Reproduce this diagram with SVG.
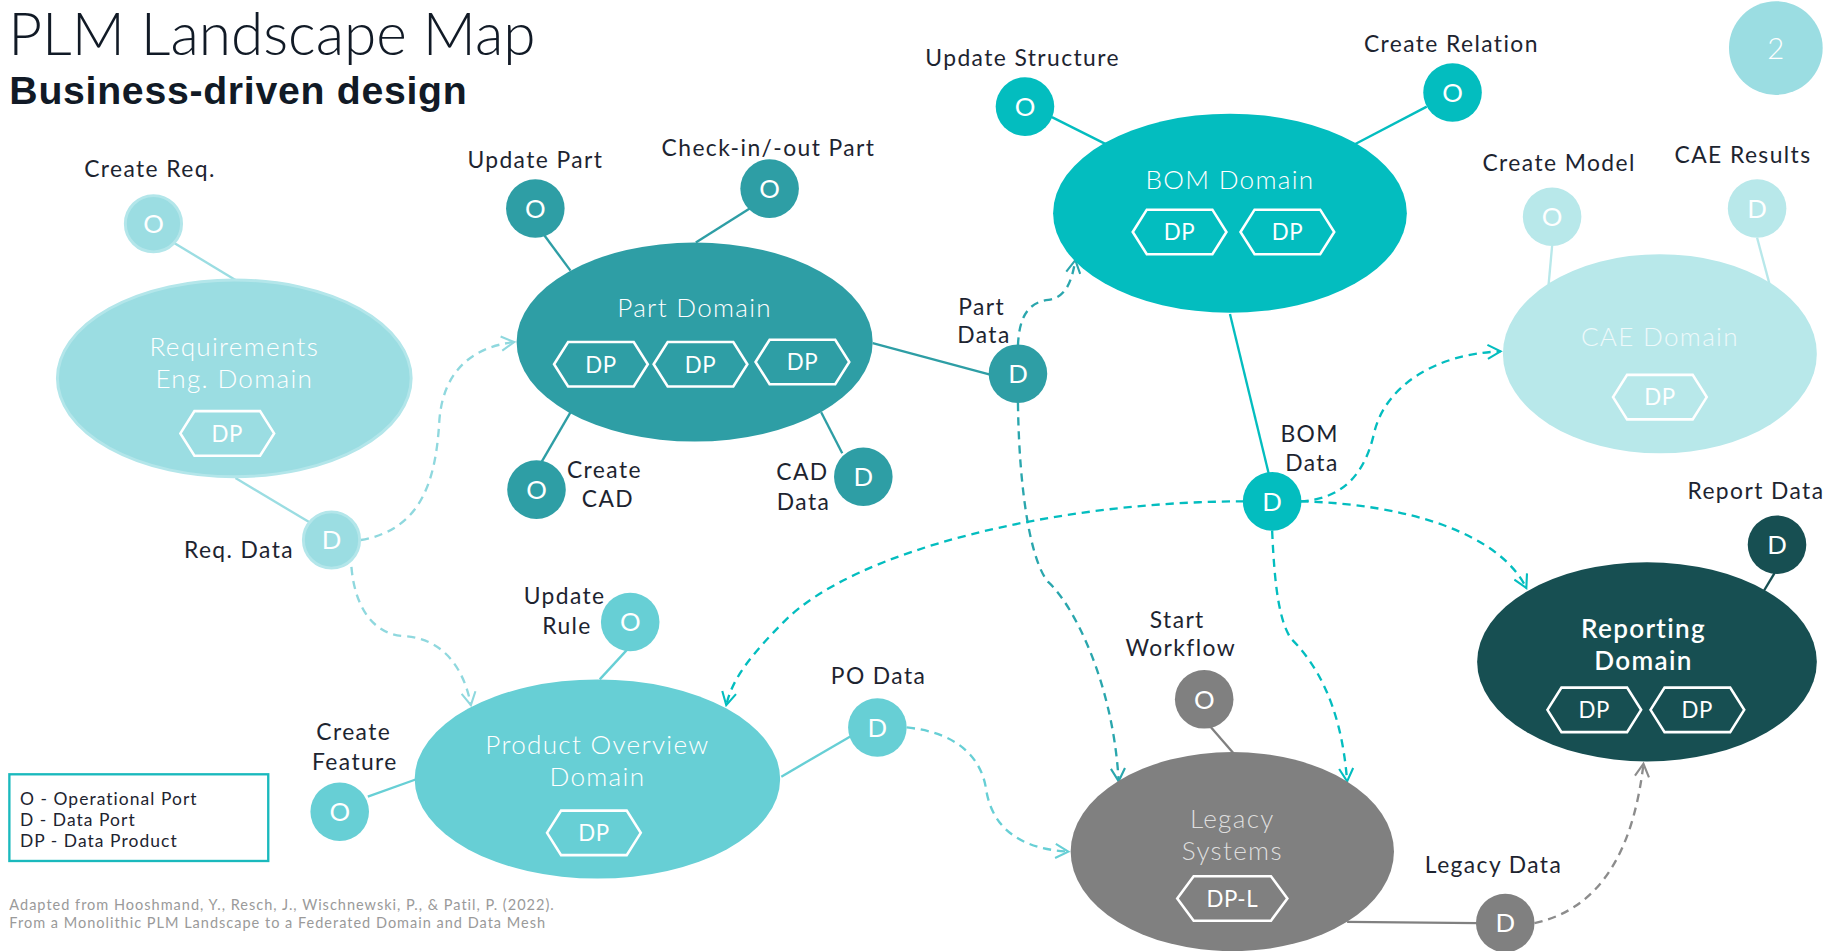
<svg xmlns="http://www.w3.org/2000/svg" width="1837" height="951" viewBox="0 0 1837 951">
  <style>
    text { font-family: Lato, "Open Sans", "Liberation Sans", sans-serif; }
    .title { font-size: 50px; font-weight: 300; fill: #111a26; }
    .subtitle { font-family: "Liberation Sans", Arial, sans-serif; font-size: 33.5px; font-weight: 700; letter-spacing: 0.6px; fill: #111a26; }
    .lbl { font-size: 19.5px; letter-spacing: 1.2px; fill: #1d2430; text-anchor: middle; }
    .dom { font-size: 22.3px; font-weight: 300; letter-spacing: 1.1px; fill: #ffffff; text-anchor: middle; }
    .port { font-size: 22px; fill: #ffffff; text-anchor: middle; }
    .dp { fill: none; stroke: #ffffff; stroke-width: 2.2; }
    .dpt { font-size: 19px; letter-spacing: 0.5px; fill: #ffffff; text-anchor: middle; }
    .link { fill: none; stroke-width: 2; }
    .flow { fill: none; stroke-width: 2; stroke-dasharray: 7 5; }
    .legend { font-size: 14.9px; letter-spacing: 0.9px; fill: #1d2430; }
    .note { font-size: 12.4px; letter-spacing: 0.85px; fill: #9a9a9a; }
  </style>
  <defs>
    <polygon id="hex" points="-40,0 -28,-19 28,-19 40,0 28,19 -28,19"/>
    <polygon id="hexw" points="-47,0 -33,-19 33,-19 47,0 33,19 -33,19"/>
    <marker id="ah-light" viewBox="0 0 14 14" refX="12" refY="7" markerWidth="14" markerHeight="14" orient="auto" markerUnits="userSpaceOnUse">
      <path d="M1,1 L12,7 L1,13" fill="none" stroke="#8fd8de" stroke-width="1.8"/>
    </marker>
    <marker id="ah-part" viewBox="0 0 14 14" refX="12" refY="7" markerWidth="14" markerHeight="14" orient="auto" markerUnits="userSpaceOnUse">
      <path d="M1,1 L12,7 L1,13" fill="none" stroke="#2aa6ad" stroke-width="1.8"/>
    </marker>
    <marker id="ah-bom" viewBox="0 0 14 14" refX="12" refY="7" markerWidth="14" markerHeight="14" orient="auto" markerUnits="userSpaceOnUse">
      <path d="M1,1 L12,7 L1,13" fill="none" stroke="#03bdbf" stroke-width="1.8"/>
    </marker>
    <marker id="ah-po" viewBox="0 0 14 14" refX="12" refY="7" markerWidth="14" markerHeight="14" orient="auto" markerUnits="userSpaceOnUse">
      <path d="M1,1 L12,7 L1,13" fill="none" stroke="#67cfd5" stroke-width="1.8"/>
    </marker>
    <marker id="ah-grey" viewBox="0 0 14 14" refX="12" refY="7" markerWidth="14" markerHeight="14" orient="auto" markerUnits="userSpaceOnUse">
      <path d="M1,1 L12,7 L1,13" fill="none" stroke="#8c8c8c" stroke-width="1.8"/>
    </marker>
  </defs>

  <rect width="1837" height="951" fill="#ffffff"/>

  <g transform="scale(1.1714)">
    <!-- heading -->
    <g id="heading">
      <text class="title" x="7" y="47">PLM Landscape Map</text>
      <text class="subtitle" x="8" y="88.5">Business-driven design</text>
    </g>

    <g id="page-number">
      <circle cx="1516" cy="41" r="40" fill="#9bdde2"/>
      <text x="1516" y="50" font-size="25" font-weight="300" fill="#ffffff" text-anchor="middle">2</text>
    </g>

    <!-- solid port links and dashed data flows -->
    <g id="connectors">
      <line class="link" stroke="#9bdde2" x1="148" y1="207" x2="201" y2="239"/>
      <line class="link" stroke="#9bdde2" x1="201" y1="408" x2="266" y2="447"/>
      <line class="link" stroke="#2e9ea5" x1="464" y1="200" x2="487" y2="231"/>
      <line class="link" stroke="#2e9ea5" x1="640" y1="178" x2="594" y2="207"/>
      <line class="link" stroke="#2e9ea5" x1="462" y1="395" x2="487" y2="352"/>
      <line class="link" stroke="#2e9ea5" x1="719" y1="387" x2="701" y2="352"/>
      <line class="link" stroke="#2e9ea5" x1="745" y1="293" x2="846" y2="320"/>
      <line class="link" stroke="#03bdbf" x1="898" y1="100" x2="944" y2="123"/>
      <line class="link" stroke="#03bdbf" x1="1218" y1="91" x2="1157" y2="123"/>
      <line class="link" stroke="#03bdbf" x1="1050" y1="268" x2="1083" y2="404"/>
      <line class="link" stroke="#b8e8ea" x1="1325" y1="210" x2="1322" y2="243"/>
      <line class="link" stroke="#b8e8ea" x1="1500" y1="203" x2="1511" y2="244"/>
      <line class="link" stroke="#174f52" x1="1515" y1="489" x2="1503" y2="509"/>
      <line class="link" stroke="#808080" x1="1033" y1="620" x2="1053" y2="643"/>
      <line class="link" stroke="#808080" x1="1150" y1="787" x2="1262" y2="788"/>
      <line class="link" stroke="#67cfd5" x1="535" y1="555" x2="512" y2="580"/>
      <line class="link" stroke="#67cfd5" x1="314" y1="680" x2="356" y2="665"/>
      <line class="link" stroke="#67cfd5" x1="727" y1="628" x2="667" y2="663"/>

      <path class="flow" stroke="#8fd8de" marker-end="url(#ah-light)" d="M308,461 C360,452 372,410 375,360 C378,315 405,296 439,292"/>
      <path class="flow" stroke="#8fd8de" marker-end="url(#ah-light)" d="M300,484 C303,520 320,542 345,543 C378,545 396,570 402,602"/>
      <path class="flow" stroke="#2aa6ad" marker-end="url(#ah-part)" d="M869,295 C870,270 878,258 895,256 C910,254 915,240 918,222"/>
      <path class="flow" stroke="#2aa6ad" marker-end="url(#ah-part)" d="M869,344 C870,420 880,480 895,497 C915,515 950,580 955,667"/>
      <path class="flow" stroke="#03bdbf" marker-end="url(#ah-bom)" d="M1062,428 C900,428 730,470 670,530 C640,560 625,580 620,602"/>
      <path class="flow" stroke="#03bdbf" marker-end="url(#ah-bom)" d="M1110,428 C1150,426 1166,400 1173,370 C1182,330 1225,302 1281,300"/>
      <path class="flow" stroke="#03bdbf" marker-end="url(#ah-bom)" d="M1110,428 C1200,430 1280,455 1303,502"/>
      <path class="flow" stroke="#03bdbf" marker-end="url(#ah-bom)" d="M1086,453 C1088,500 1092,530 1102,545 C1122,565 1145,600 1150,667"/>
      <path class="flow" stroke="#67cfd5" marker-end="url(#ah-po)" d="M774,621 C815,625 838,645 842,675 C848,710 875,725 912,727"/>
      <path class="flow" stroke="#8c8c8c" marker-end="url(#ah-grey)" d="M1310,788 C1370,775 1395,720 1403,652"/>
    </g>

    <!-- Requirements Engineering -->
    <g id="req-domain">
      <ellipse cx="200" cy="323" rx="151" ry="84" fill="#9bdde2" stroke="#b3e6ea" stroke-width="2.5"/>
      <text class="dom"><tspan x="200" y="304">Requirements</tspan><tspan x="200" y="331">Eng. Domain</tspan></text>
      <use href="#hex" x="194" y="370" class="dp"/>
      <text class="dpt" x="194" y="377">DP</text>
    </g>
    <g id="req-create">
      <circle cx="131" cy="191" r="24" fill="#9bdde2" stroke="#b3e6ea" stroke-width="2.5"/>
      <text class="port" x="131" y="199">O</text>
      <text class="lbl" x="128" y="151">Create Req.</text>
    </g>
    <g id="req-data">
      <circle cx="283" cy="461" r="24" fill="#9bdde2" stroke="#b3e6ea" stroke-width="2.5"/>
      <text class="port" x="283" y="469">D</text>
      <text class="lbl" x="204" y="476">Req. Data</text>
    </g>

    <!-- Part -->
    <g id="part-domain">
      <ellipse cx="593" cy="292" rx="152" ry="85" fill="#2e9ea5"/>
      <text class="dom" x="593" y="271">Part Domain</text>
      <use href="#hex" x="513" y="311" class="dp"/>
      <text class="dpt" x="513" y="318">DP</text>
      <use href="#hex" x="598" y="311" class="dp"/>
      <text class="dpt" x="598" y="318">DP</text>
      <use href="#hex" x="685" y="309" class="dp"/>
      <text class="dpt" x="685" y="316">DP</text>
    </g>
    <g id="part-update">
      <circle cx="457" cy="178" r="25" fill="#2e9ea5"/>
      <text class="port" x="457" y="186">O</text>
      <text class="lbl" x="457" y="143">Update Part</text>
    </g>
    <g id="part-checkinout">
      <circle cx="657" cy="161" r="25" fill="#2e9ea5"/>
      <text class="port" x="657" y="169">O</text>
      <text class="lbl" x="656" y="133">Check-in/-out Part</text>
    </g>
    <g id="part-create-cad">
      <circle cx="458" cy="418" r="25" fill="#2e9ea5"/>
      <text class="port" x="458" y="426">O</text>
      <text class="lbl"><tspan x="516" y="408">Create</tspan><tspan x="519" y="433">CAD</tspan></text>
    </g>
    <g id="part-cad-data">
      <circle cx="737" cy="407" r="25" fill="#2e9ea5"/>
      <text class="port" x="737" y="415">D</text>
      <text class="lbl"><tspan x="685" y="410">CAD</tspan><tspan x="686" y="435">Data</tspan></text>
    </g>
    <g id="part-data">
      <circle cx="869" cy="319" r="25" fill="#2e9ea5"/>
      <text class="port" x="869" y="327">D</text>
      <text class="lbl"><tspan x="838" y="269">Part</tspan><tspan x="840" y="293">Data</tspan></text>
    </g>

    <!-- BOM -->
    <g id="bom-domain">
      <ellipse cx="1050" cy="182" rx="151" ry="85" fill="#03bdbf"/>
      <text class="dom" x="1050" y="161">BOM Domain</text>
      <use href="#hex" x="1007" y="198" class="dp"/>
      <text class="dpt" x="1007" y="205">DP</text>
      <use href="#hex" x="1099" y="198" class="dp"/>
      <text class="dpt" x="1099" y="205">DP</text>
    </g>
    <g id="bom-update-structure">
      <circle cx="875" cy="91" r="25" fill="#03bdbf"/>
      <text class="port" x="875" y="99">O</text>
      <text class="lbl" x="873" y="56">Update Structure</text>
    </g>
    <g id="bom-create-relation">
      <circle cx="1240" cy="79" r="25" fill="#03bdbf"/>
      <text class="port" x="1240" y="87">O</text>
      <text class="lbl" x="1239" y="44">Create Relation</text>
    </g>
    <g id="bom-data">
      <circle cx="1086" cy="428" r="25" fill="#03bdbf"/>
      <text class="port" x="1086" y="436">D</text>
      <text class="lbl"><tspan x="1118" y="377">BOM</tspan><tspan x="1120" y="402">Data</tspan></text>
    </g>

    <!-- CAE -->
    <g id="cae-domain">
      <ellipse cx="1417" cy="302" rx="134" ry="85" fill="#b8e8ea"/>
      <text class="dom" x="1417" y="295" style="fill:#eef9fa">CAE Domain</text>
      <use href="#hex" x="1417" y="339" class="dp"/>
      <text class="dpt" x="1417" y="346">DP</text>
    </g>
    <g id="cae-create-model">
      <circle cx="1325" cy="185" r="25" fill="#b8e8ea"/>
      <text class="port" x="1325" y="193">O</text>
      <text class="lbl" x="1331" y="146">Create Model</text>
    </g>
    <g id="cae-results">
      <circle cx="1500" cy="178" r="25" fill="#b8e8ea"/>
      <text class="port" x="1500" y="186">D</text>
      <text class="lbl" x="1488" y="139">CAE Results</text>
    </g>

    <!-- Reporting -->
    <g id="reporting-domain">
      <ellipse cx="1406" cy="565" rx="145" ry="85" fill="#174f52"/>
      <text class="dom" style="font-weight:600"><tspan x="1403" y="545">Reporting</tspan><tspan x="1403" y="572">Domain</tspan></text>
      <use href="#hex" x="1361" y="606" class="dp"/>
      <text class="dpt" x="1361" y="613">DP</text>
      <use href="#hex" x="1449" y="606" class="dp"/>
      <text class="dpt" x="1449" y="613">DP</text>
    </g>
    <g id="report-data">
      <circle cx="1517" cy="465" r="25" fill="#174f52"/>
      <text class="port" x="1517" y="473">D</text>
      <text class="lbl" x="1499" y="426">Report Data</text>
    </g>

    <!-- Legacy -->
    <g id="legacy-systems">
      <ellipse cx="1052" cy="727" rx="138" ry="85" fill="#808080"/>
      <text class="dom" style="fill:#dedede"><tspan x="1052" y="707">Legacy</tspan><tspan x="1052" y="734">Systems</tspan></text>
      <use href="#hexw" x="1052" y="767" class="dp"/>
      <text class="dpt" x="1052" y="774">DP-L</text>
    </g>
    <g id="legacy-start-workflow">
      <circle cx="1028" cy="597" r="25" fill="#808080"/>
      <text class="port" x="1028" y="605">O</text>
      <text class="lbl"><tspan x="1005" y="536">Start</tspan><tspan x="1008" y="560">Workflow</tspan></text>
    </g>
    <g id="legacy-data">
      <circle cx="1285" cy="788" r="25" fill="#808080"/>
      <text class="port" x="1285" y="796">D</text>
      <text class="lbl" x="1275" y="745">Legacy Data</text>
    </g>

    <!-- Product Overview -->
    <g id="po-domain">
      <ellipse cx="510" cy="665" rx="156" ry="85" fill="#67cfd5"/>
      <text class="dom"><tspan x="510" y="644">Product Overview</tspan><tspan x="510" y="671">Domain</tspan></text>
      <use href="#hex" x="507" y="711" class="dp"/>
      <text class="dpt" x="507" y="718">DP</text>
    </g>
    <g id="po-update-rule">
      <circle cx="538" cy="531" r="25" fill="#67cfd5"/>
      <text class="port" x="538" y="539">O</text>
      <text class="lbl"><tspan x="482" y="516">Update</tspan><tspan x="484" y="541">Rule</tspan></text>
    </g>
    <g id="po-create-feature">
      <circle cx="290" cy="693" r="25" fill="#67cfd5"/>
      <text class="port" x="290" y="701">O</text>
      <text class="lbl"><tspan x="302" y="632">Create</tspan><tspan x="303" y="657">Feature</tspan></text>
    </g>
    <g id="po-data">
      <circle cx="749" cy="621" r="25" fill="#67cfd5"/>
      <text class="port" x="749" y="629">D</text>
      <text class="lbl" x="750" y="584">PO Data</text>
    </g>

    <!-- key -->
    <g id="legend">
      <rect x="8" y="661" width="221" height="74" fill="#ffffff" stroke="#1ab9bd" stroke-width="2"/>
      <text class="legend"><tspan x="17" y="687">O - Operational Port</tspan><tspan x="17" y="705">D - Data Port</tspan><tspan x="17" y="723">DP - Data Product</tspan></text>
    </g>

    <g id="source-note">
      <text class="note"><tspan x="8" y="777">Adapted from Hooshmand, Y., Resch, J., Wischnewski, P., &amp; Patil, P. (2022).</tspan><tspan x="8" y="792">From a Monolithic PLM Landscape to a Federated Domain and Data Mesh</tspan></text>
    </g>
  </g>
</svg>
